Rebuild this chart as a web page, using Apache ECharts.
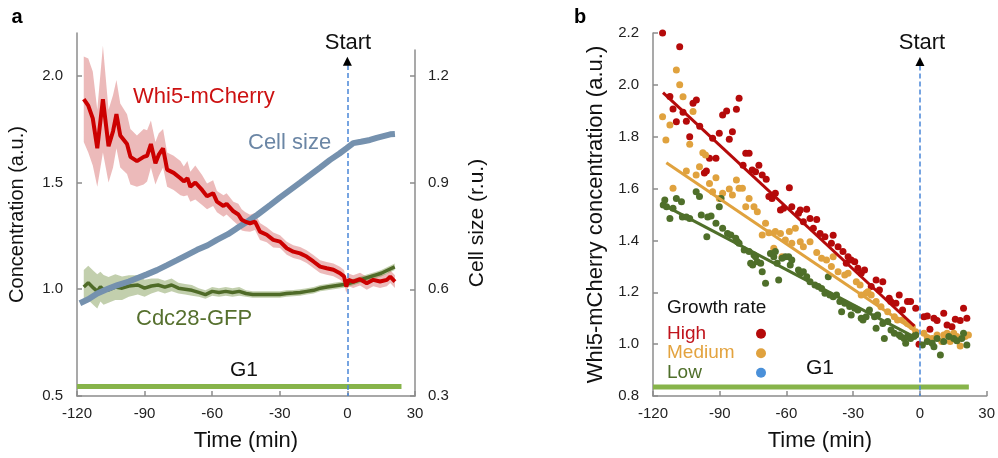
<!DOCTYPE html>
<html>
<head>
<meta charset="utf-8">
<script src="https://cdn.jsdelivr.net/npm/echarts@6/dist/echarts.min.js"></script>
<style>
  html, body { margin: 0; padding: 0; background: #fff; }
  #chart { width: 998px; height: 458px; }
</style>
</head>
<body>
<div id="chart"></div>
<script>
// ---- panel a ----
// [time (min), mean, half width of band]
var whi5Points = [
  [-117, 1.89, 0.20], [-115, 1.86, 0.22], [-113, 1.80, 0.22], [-111, 1.66, 0.18],
  [-108.5, 1.89, 0.25], [-106, 1.67, 0.17], [-104, 1.74, 0.17], [-102.5, 1.82, 0.16],
  [-100.8, 1.72, 0.15], [-97.8, 1.68, 0.14], [-96.3, 1.62, 0.13], [-93.4, 1.60, 0.12],
  [-90.4, 1.62, 0.13], [-88.9, 1.625, 0.12], [-87.2, 1.68, 0.11], [-85.2, 1.59, 0.10],
  [-83.7, 1.63, 0.10], [-81.8, 1.66, 0.09], [-80, 1.56, 0.08], [-77.1, 1.545, 0.08],
  [-74.1, 1.52, 0.08], [-72.6, 1.505, 0.07], [-71, 1.52, 0.08], [-69.7, 1.48, 0.07],
  [-67.5, 1.50, 0.08], [-64.5, 1.465, 0.07], [-62.3, 1.435, 0.06], [-59.6, 1.45, 0.06],
  [-57.9, 1.41, 0.05], [-55, 1.39, 0.05], [-53.6, 1.40, 0.05], [-50.6, 1.365, 0.045],
  [-48.4, 1.35, 0.05], [-46.9, 1.325, 0.05], [-45.4, 1.317, 0.045], [-43.2, 1.309, 0.04],
  [-41, 1.317, 0.04], [-38.8, 1.27, 0.04], [-35.8, 1.255, 0.035], [-32.9, 1.231, 0.035],
  [-29.9, 1.223, 0.03], [-26.9, 1.192, 0.03], [-24, 1.176, 0.03], [-21, 1.168, 0.03],
  [-18.1, 1.153, 0.03], [-15.1, 1.13, 0.03], [-12.1, 1.106, 0.03], [-9.2, 1.098, 0.03],
  [-6.2, 1.091, 0.03], [-3.3, 1.075, 0.03], [-1.5, 1.06, 0.03], [-0.5, 1.012, 0.03],
  [0.5, 1.044, 0.03], [2.6, 1.036, 0.03], [5.6, 1.047, 0.03], [8.6, 1.028, 0.03],
  [11.5, 1.044, 0.03], [14.5, 1.036, 0.03], [17.5, 1.044, 0.03], [19, 1.059, 0.03],
  [21.1, 1.036, 0.03]
];
var cdcPoints = [
  [-117, 1.01, 0.08], [-115, 1.03, 0.08], [-112.6, 1.005, 0.08], [-111, 0.99, 0.08],
  [-109.6, 1.012, 0.07], [-108.2, 0.997, 0.07], [-106, 0.997, 0.06], [-103, 1.01, 0.06],
  [-100, 1.005, 0.055], [-97, 1.015, 0.05], [-93, 1.02, 0.045], [-90, 1.005, 0.04],
  [-87, 1.015, 0.035], [-84, 1.02, 0.03], [-81, 1.01, 0.03], [-78, 1.02, 0.03],
  [-75, 1.005, 0.025], [-72, 1.0, 0.025], [-69, 0.995, 0.025], [-66, 0.985, 0.02],
  [-63, 0.975, 0.02], [-60, 0.99, 0.02], [-57, 0.985, 0.02], [-54, 0.99, 0.02],
  [-51, 0.985, 0.02], [-48, 0.99, 0.02], [-45, 0.98, 0.015], [-42, 0.975, 0.015],
  [-39, 0.975, 0.015], [-36, 0.975, 0.015], [-33, 0.975, 0.015], [-30, 0.975, 0.015],
  [-27, 0.98, 0.015], [-24, 0.982, 0.015], [-21, 0.985, 0.015], [-18, 0.99, 0.015],
  [-15, 0.995, 0.015], [-12, 1.005, 0.015], [-9, 1.01, 0.015], [-6, 1.015, 0.015],
  [-3, 1.02, 0.015], [0, 1.025, 0.015], [3, 1.035, 0.015], [6, 1.045, 0.015],
  [9, 1.055, 0.015], [12, 1.065, 0.015], [15, 1.075, 0.015], [18, 1.09, 0.015],
  [21, 1.105, 0.015]
];
// [time, cell size (r.u.)]
var sizePoints = [
  [-118.7, 0.561], [-115, 0.572], [-111, 0.588], [-106, 0.602], [-102, 0.612],
  [-97, 0.622], [-93.4, 0.631], [-89, 0.642], [-84.5, 0.654], [-80, 0.668],
  [-75.6, 0.682], [-71, 0.697], [-66.7, 0.711], [-62, 0.724], [-57.9, 0.739],
  [-53, 0.755], [-49, 0.772], [-44.5, 0.79], [-40.1, 0.809], [-34.3, 0.837],
  [-30, 0.858], [-25.5, 0.879], [-21, 0.90], [-16.6, 0.921], [-12, 0.943],
  [-7.7, 0.964], [-3.5, 0.982], [-0.3, 0.997], [2.6, 1.011], [6, 1.015],
  [10, 1.02], [13, 1.026], [16, 1.031], [19, 1.036], [21.1, 1.037]
];
var g1A = [[-120, 0.545], [24, 0.545]];

// ---- panel b ----
var highPoints = [
  [-115.7, 2.20], [-112.4, 1.955], [-111, 1.907], [-109.5, 1.858], [-108, 2.147], [-106.5, 1.894],
  [-105, 1.86], [-103.5, 1.80], [-102, 1.929], [-100.5, 1.942], [-99, 1.84], [-96.9, 1.66],
  [-96, 1.668], [-94.6, 1.717], [-93.2, 1.794], [-91.7, 1.717], [-90.2, 1.813], [-88.7, 1.884],
  [-86.9, 1.899], [-85.7, 1.79], [-84.3, 1.819], [-82.5, 1.906], [-81.3, 1.948], [-79.5, 1.69],
  [-78.3, 1.736], [-76.8, 1.736], [-75.4, 1.672], [-73.9, 1.665], [-72.4, 1.69], [-70.9, 1.652],
  [-69.1, 1.636], [-67.9, 1.569], [-66.5, 1.562], [-65, 1.582], [-62.7, 1.517], [-61.3, 1.524],
  [-58.7, 1.603], [-57.6, 1.53], [-54.6, 1.505], [-53.8, 1.517], [-52.4, 1.472], [-50.9, 1.52],
  [-49.4, 1.485], [-47.9, 1.447], [-46.4, 1.481], [-44.9, 1.427], [-42.7, 1.414], [-39.8, 1.389],
  [-39, 1.42], [-36.8, 1.376], [-34.6, 1.357], [-33.1, 1.312], [-32.3, 1.337], [-30.9, 1.325],
  [-29.3, 1.318], [-27.9, 1.293], [-26.4, 1.273], [-24.9, 1.286], [-21.9, 1.222], [-19.7, 1.247],
  [-18.2, 1.209], [-16.7, 1.241], [-13.8, 1.177], [-13.1, 1.164], [-10.8, 1.158], [-9.3, 1.19],
  [-7.8, 1.132], [-5.6, 1.164], [-4.2, 1.164], [-1.9, 1.138], [-0.4, 1.0], [1.8, 1.106],
  [3.3, 1.109], [4.5, 1.057], [6.3, 1.1], [7.7, 1.091], [10.7, 1.119], [12.2, 1.074],
  [14.4, 1.067], [15.9, 1.096], [18.1, 1.091], [19.6, 1.138], [21.1, 1.1]
];
var mediumPoints = [
  [-115.7, 1.877], [-114.2, 1.787], [-112.4, 1.845], [-111, 1.601], [-109.5, 2.057], [-108, 2.0],
  [-106.5, 1.954], [-105, 1.668], [-103.5, 1.771], [-102, 1.897], [-100.6, 1.652], [-99.1, 1.684],
  [-97.6, 1.738], [-96.4, 1.729], [-94.6, 1.62], [-93.2, 1.588], [-91.7, 1.642], [-90.2, 1.562],
  [-88.7, 1.582], [-85.7, 1.598], [-84.3, 1.575], [-82.5, 1.633], [-81.3, 1.601], [-79.8, 1.601],
  [-78.3, 1.53], [-76.8, 1.562], [-74.6, 1.53], [-73.1, 1.511], [-70.9, 1.421], [-69.4, 1.466],
  [-67.9, 1.43], [-65.7, 1.37], [-65, 1.434], [-62.7, 1.427], [-62, 1.337], [-60.5, 1.402],
  [-58.7, 1.434], [-57.6, 1.389], [-56, 1.447], [-53.8, 1.395], [-52.4, 1.376], [-49.4, 1.395],
  [-46.4, 1.353], [-44.2, 1.331], [-42, 1.325], [-39.8, 1.299], [-39, 1.337], [-36.8, 1.279],
  [-33.8, 1.267], [-32.3, 1.273], [-28.6, 1.241], [-26.9, 1.228], [-26.4, 1.19], [-24.2, 1.196],
  [-23.4, 1.202], [-21.9, 1.19], [-19.7, 1.164], [-17.5, 1.144], [-14.5, 1.125], [-11.5, 1.106],
  [-10.1, 1.093], [-7.9, 1.093], [-5.6, 1.08], [-3.4, 1.067], [-1.9, 1.048], [1.8, 1.042],
  [3.3, 1.026], [5.5, 1.022], [7.7, 1.035], [9.8, 1.01], [10.7, 1.035], [12.2, 1.042],
  [13.6, 1.01], [15.2, 1.042], [16.6, 1.029], [18.1, 0.993], [20.3, 1.029], [21.8, 1.035]
];
var lowPoints = [
  [-115.4, 1.537], [-114.7, 1.556], [-113.9, 1.53], [-112.4, 1.485], [-111, 1.524], [-109.5, 1.562],
  [-107.2, 1.549], [-106.8, 1.49], [-105, 1.49], [-103.5, 1.485], [-100.6, 1.588], [-99.1, 1.569],
  [-98.3, 1.498], [-95.8, 1.414], [-95.4, 1.49], [-93.9, 1.494], [-91.7, 1.466], [-90.2, 1.53],
  [-89.4, 1.562], [-88.7, 1.447], [-86.5, 1.427], [-85, 1.421], [-82.8, 1.408], [-82, 1.395],
  [-81.3, 1.389], [-79, 1.363], [-76.8, 1.357], [-76.1, 1.312], [-75.2, 1.305], [-74.6, 1.344],
  [-73.9, 1.337], [-73.1, 1.318], [-71.6, 1.312], [-70.9, 1.279], [-69.4, 1.235], [-67.2, 1.35],
  [-65.7, 1.337], [-65, 1.357], [-64.2, 1.312], [-63.5, 1.247], [-62, 1.331], [-60.5, 1.337],
  [-59, 1.337], [-58.3, 1.305], [-57.6, 1.325], [-54.6, 1.286], [-53.8, 1.273], [-52.4, 1.279],
  [-50.9, 1.26], [-49.4, 1.241], [-47.2, 1.228], [-45.7, 1.222], [-44.2, 1.215], [-42.7, 1.196],
  [-41.2, 1.26], [-40.5, 1.19], [-39, 1.183], [-37.5, 1.19], [-36, 1.164], [-35.2, 1.125],
  [-33.8, 1.158], [-31.6, 1.145], [-30.9, 1.112], [-29.3, 1.138], [-27.9, 1.132], [-26.4, 1.1],
  [-25.6, 1.093], [-24.2, 1.106], [-22.7, 1.132], [-20.4, 1.106], [-19.7, 1.061], [-19, 1.112],
  [-16.7, 1.08], [-16, 1.022], [-14.5, 1.087], [-13, 1.055], [-11.5, 1.042], [-9.3, 1.035],
  [-8.6, 1.029], [-7.1, 1.022], [-6.4, 1.003], [-5.6, 1.029], [-4.2, 1.022], [-2.7, 1.029],
  [-1.9, 1.035], [1.1, 0.997], [3.3, 1.01], [5.5, 1.003], [6.3, 0.99], [7.7, 1.022],
  [9.2, 0.958], [10.7, 1.01], [13, 1.029], [15.2, 1.022], [16.6, 1.013], [18.8, 1.022],
  [19.6, 1.042], [21.1, 0.997]
];
var highFit = [[-115.5, 1.97], [-2.5, 1.07]];
var mediumFit = [[-114, 1.70], [-2, 1.05]];
var lowFit = [[-116, 1.54], [-2, 1.025]];
var g1B = [[-120, 0.835], [22, 0.835]];

var concTicks = [0.5, 1.0, 1.5, 2.0];
var sizeTicks = [0.3, 0.6, 0.9, 1.2];

var FONT = 'Liberation Sans, Arial, sans-serif';
var AXIS = '#8c8c8c';

function xAxisOf(grid) {
  return {
    gridIndex: grid, type: 'value', min: -120, max: 30, interval: 30,
    axisLine: { onZero: false, lineStyle: { color: AXIS, width: 1.5 } },
    axisTick: { inside: true, length: 5, lineStyle: { color: AXIS, width: 1.5 } },
    axisLabel: { fontSize: 15, color: '#222', margin: 10 },
    splitLine: { show: false },
    name: 'Time (min)', nameLocation: 'middle', nameGap: 34,
    nameTextStyle: { fontSize: 22, color: '#111' }
  };
}

function yAxisOf(grid, opts) {
  var a = {
    gridIndex: grid, type: 'value',
    axisLine: { show: true, onZero: false, lineStyle: { color: AXIS, width: 1.5 } },
    axisTick: { show: true, inside: true, length: 5, lineStyle: { color: AXIS, width: 1.5 } },
    axisLabel: { fontSize: 15, color: '#222', margin: 14, formatter: function (v) { return v.toFixed(1); } },
    splitLine: { show: false },
    nameLocation: 'middle',
    nameTextStyle: { fontSize: 20, color: '#111' }
  };
  for (var k in opts) a[k] = opts[k];
  return a;
}

function bandSeries(points, color) {
  return {
    type: 'custom', xAxisIndex: 0, yAxisIndex: 0, silent: true, z: 1,
    data: points.map(function (p) { return [p[0], p[1]]; }),
    renderItem: function (params, api) {
      if (params.dataIndex !== 0) return null;
      var upper = points.map(function (p) { return api.coord([p[0], p[1] + p[2]]); });
      var lower = points.map(function (p) { return api.coord([p[0], p[1] - p[2]]); }).reverse();
      return { type: 'polygon', shape: { points: upper.concat(lower) }, style: { fill: color } };
    }
  };
}

function line(data, color, width, xi, yi, z) {
  return {
    type: 'line', data: data, xAxisIndex: xi, yAxisIndex: yi, z: z,
    showSymbol: false, symbol: 'none', silent: true,
    lineStyle: { color: color, width: width }
  };
}

function startMarks(lineTop, lineBottom, arrowAt) {
  return {
    markLine: {
      silent: true, symbol: ['none', 'none'], label: { show: false },
      lineStyle: { type: [5, 3], color: '#4a86d8', width: 1.5 },
      data: [[{ coord: [0, lineTop] }, { coord: [0, lineBottom] }]]
    },
    markPoint: {
      silent: true, symbol: 'triangle', symbolSize: [9, 9],
      itemStyle: { color: '#000' }, label: { show: false },
      data: [{ coord: [0, arrowAt] }]
    }
  };
}

function text(x, y, str, size, color, align, bold) {
  return {
    type: 'text', x: x, y: y, z: 100, silent: true,
    style: {
      text: str, fill: color,
      font: (bold ? 'bold ' : '') + size + 'px ' + FONT,
      align: align, textAlign: align,
      verticalAlign: 'middle', textVerticalAlign: 'middle'
    }
  };
}

var g1LineA = line(g1A, '#87b44a', 5, 0, 0, 3);
var sa = startMarks(2.05, 0.5, 2.068);
g1LineA.markLine = sa.markLine; g1LineA.markPoint = sa.markPoint;

var g1LineB = line(g1B, '#87b44a', 5, 2, 2, 3);
var sb = startMarks(2.075, 0.8, 2.09);
g1LineB.markLine = sb.markLine; g1LineB.markPoint = sb.markPoint;

function dots(name, data, color) {
  return {
    name: name, type: 'scatter', data: data, xAxisIndex: 2, yAxisIndex: 2,
    symbol: 'circle', symbolSize: 7, itemStyle: { color: color, opacity: 1 }, silent: true, z: 2
  };
}

var chart = echarts.init(document.getElementById('chart'), null, { renderer: 'canvas' });
chart.setOption({
  animation: false,
  backgroundColor: '#fff',
  textStyle: { fontFamily: FONT },
  grid: [
    { left: 77, top: 33, width: 338, height: 363 },
    { left: 77, top: 50, width: 338, height: 346 },
    { left: 653, top: 33, width: 337, height: 363 }
  ],
  xAxis: [
    xAxisOf(0),
    { gridIndex: 1, type: 'value', min: -120, max: 30, show: false },
    xAxisOf(2)
  ],
  yAxis: [
    yAxisOf(0, {
      min: 0.5, max: 2.2, position: 'left',
      name: 'Concentration (a.u.)', nameGap: 50,
      axisTick: { show: true, inside: true, length: 5, customValues: concTicks, lineStyle: { color: AXIS, width: 1.5 } },
      axisLabel: { fontSize: 15, color: '#222', margin: 14, customValues: concTicks, formatter: function (v) { return v.toFixed(1); } }
    }),
    yAxisOf(1, {
      min: 0.3, max: 1.273, position: 'right',
      name: 'Cell size (r.u.)', nameGap: 52,
      nameTextStyle: { fontSize: 21, color: '#111' },
      axisTick: { show: true, inside: true, length: 5, customValues: sizeTicks, lineStyle: { color: AXIS, width: 1.5 } },
      axisLabel: { fontSize: 15, color: '#222', margin: 13, customValues: sizeTicks, formatter: function (v) { return v.toFixed(1); } }
    }),
    yAxisOf(2, {
      min: 0.8, max: 2.2, interval: 0.2, position: 'left',
      name: 'Whi5-mCherry concentration (a.u.)', nameGap: 46,
      nameTextStyle: { fontSize: 22, color: '#111' }
    })
  ],
  legend: {
    data: [
      { name: 'High', textStyle: { color: '#c0141c' } },
      { name: 'Medium', textStyle: { color: '#e3a33f' } },
      { name: 'Low', textStyle: { color: '#4f6f2a' }, itemStyle: { color: '#4a90d9' } }
    ],
    orient: 'vertical', left: 662, top: 319, align: 'right',
    icon: 'circle', itemWidth: 10, itemHeight: 10, itemGap: 0,
    selectedMode: false,
    formatter: function (name) { return '{n|' + name + '}'; },
    textStyle: {
      fontSize: 19, lineHeight: 19.5, fontFamily: FONT,
      rich: { n: { width: 84, align: 'left', fontSize: 19, lineHeight: 19.5, fontFamily: FONT } }
    }
  },
  graphic: [
    text(17, 17, 'a', 20, '#000', 'center', true),
    text(580, 17, 'b', 20, '#000', 'center', true),
    text(348, 43, 'Start', 22, '#111', 'center'),
    text(922, 43, 'Start', 22, '#111', 'center'),
    text(133, 97, 'Whi5-mCherry', 22, '#cc1111', 'left'),
    text(248, 143, 'Cell size', 22, '#6b86a5', 'left'),
    text(136, 319, 'Cdc28-GFP', 22, '#56702e', 'left'),
    text(244, 370, 'G1', 21, '#111', 'center'),
    text(820, 368, 'G1', 21, '#111', 'center'),
    text(667, 308, 'Growth rate', 19, '#111', 'left')
  ],
  series: [
    bandSeries(whi5Points, 'rgba(210, 90, 90, 0.42)'),
    bandSeries(cdcPoints, 'rgba(110, 140, 60, 0.42)'),
    line(cdcPoints.map(function (p) { return [p[0], p[1]]; }), '#4f6b28', 3.5, 0, 0, 4),
    line(sizePoints, '#7591ae', 6, 1, 1, 5),
    line(whi5Points.map(function (p) { return [p[0], p[1]]; }), '#cc0000', 4, 0, 0, 6),
    g1LineA,
    dots('High', highPoints, '#b50a0a'),
    dots('Medium', mediumPoints, '#e0a23e'),
    dots('Low', lowPoints, '#4f6f2a'),
    line(highFit, '#b50a0a', 3, 2, 2, 4),
    line(mediumFit, '#e0a23e', 3, 2, 2, 4),
    line(lowFit, '#4f6f2a', 3, 2, 2, 4),
    g1LineB
  ]
});
</script>
</body>
</html>
